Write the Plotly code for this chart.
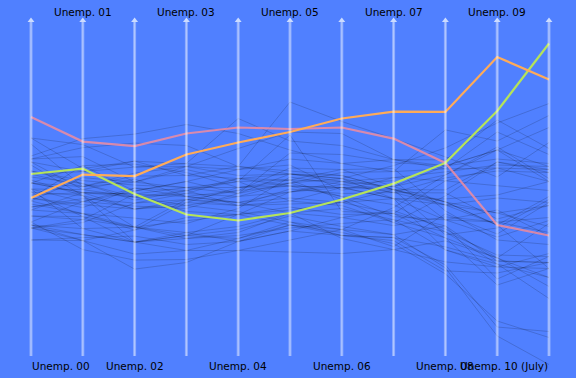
import plotly.graph_objects as go

# Axis labels (one per year column)
AXIS_LABELS = ["Unemp. 00", "Unemp. 01", "Unemp. 02", "Unemp. 03", "Unemp. 04",
               "Unemp. 05", "Unemp. 06", "Unemp. 07", "Unemp. 08", "Unemp. 09",
               "Unemp. 10 (July)"]

# Reference level (centre) of each axis, in % unemployment
AXIS_MID = [4.0, 4.82, 5.77, 5.95, 5.45, 4.9, 4.55, 4.62, 5.83, 9.2, 9.45]

# Background states, unemployment rate % (2000 .. July 2010)
STATES = {
    "AL": [4.6, 5.1, 5.9, 6.0, 5.7, 4.5, 4.0, 3.5, 5.6, 10.1, 10.0],
    "AZ": [4.0, 4.8, 6.1, 5.7, 5.0, 4.6, 4.1, 3.8, 6.1, 9.9, 9.7],
    "AR": [4.4, 5.0, 5.4, 5.9, 5.7, 5.2, 5.2, 5.3, 5.1, 7.5, 7.6],
    "CA": [4.9, 5.4, 6.7, 6.8, 6.2, 5.4, 4.9, 5.4, 7.2, 11.4, 12.3],
    "CO": [2.7, 3.8, 5.6, 6.0, 5.5, 5.0, 4.3, 3.7, 4.8, 8.1, 8.0],
    "CT": [2.3, 3.1, 4.4, 5.5, 4.9, 4.9, 4.4, 4.5, 5.7, 8.2, 8.9],
    "DE": [4.0, 3.5, 4.0, 4.3, 4.0, 4.1, 3.6, 3.4, 4.9, 8.1, 8.5],
    "FL": [3.8, 4.7, 5.6, 5.2, 4.6, 3.7, 3.2, 4.0, 6.3, 10.5, 11.5],
    "GA": [3.5, 4.0, 4.8, 4.8, 4.8, 5.3, 4.7, 4.5, 6.2, 9.8, 10.0],
    "HI": [4.3, 4.6, 4.0, 3.9, 3.4, 2.8, 2.4, 2.6, 4.1, 6.9, 6.5],
    "ID": [4.6, 5.0, 5.5, 5.4, 4.7, 3.8, 3.2, 2.7, 5.0, 7.7, 9.0],
    "IL": [4.5, 5.4, 6.5, 6.7, 6.1, 5.7, 4.5, 5.0, 6.4, 10.0, 10.2],
    "IN": [2.9, 4.4, 5.2, 5.3, 5.3, 5.4, 5.0, 4.6, 5.8, 10.1, 10.1],
    "IA": [2.8, 3.3, 4.0, 4.4, 4.6, 4.3, 3.7, 3.8, 4.2, 6.0, 6.8],
    "KS": [3.7, 4.3, 5.1, 5.5, 5.5, 5.1, 4.3, 4.1, 4.4, 6.7, 6.5],
    "KY": [4.2, 5.6, 5.7, 6.2, 5.3, 6.1, 5.7, 5.5, 6.6, 10.5, 10.2],
    "LA": [5.0, 5.9, 6.0, 6.6, 5.7, 6.7, 3.8, 3.8, 4.6, 6.8, 7.0],
    "ME": [3.3, 4.0, 4.4, 5.0, 4.6, 4.8, 4.6, 4.7, 5.4, 8.0, 7.9],
    "MD": [3.6, 4.0, 4.5, 4.5, 4.2, 4.1, 3.9, 3.6, 4.4, 7.0, 7.2],
    "MA": [2.7, 3.7, 5.3, 5.8, 5.2, 4.8, 4.8, 4.5, 5.3, 8.4, 8.9],
    "MN": [3.1, 3.9, 4.5, 4.9, 4.6, 4.2, 4.1, 4.6, 5.4, 8.0, 6.8],
    "MS": [5.7, 5.5, 6.7, 6.4, 6.2, 7.8, 6.8, 6.3, 6.9, 9.6, 11.0],
    "MO": [3.3, 4.7, 5.5, 5.8, 5.8, 5.4, 4.8, 5.0, 6.1, 9.3, 9.4],
    "MT": [4.8, 4.6, 4.5, 4.4, 4.1, 4.0, 3.3, 3.1, 4.6, 6.2, 7.2],
    "NE": [2.8, 3.1, 3.6, 3.9, 3.8, 3.8, 3.0, 3.0, 3.3, 4.6, 4.7],
    "NH": [2.8, 3.5, 4.5, 4.3, 3.9, 3.6, 3.4, 3.6, 3.8, 6.7, 5.8],
    "NJ": [3.7, 4.2, 5.8, 5.9, 4.9, 4.5, 4.6, 4.3, 5.5, 9.0, 9.7],
    "NM": [4.9, 4.8, 5.5, 5.9, 5.8, 5.2, 4.2, 3.5, 4.2, 6.9, 8.3],
    "NY": [4.5, 4.9, 6.2, 6.4, 5.8, 5.0, 4.6, 4.6, 5.4, 8.4, 8.2],
    "NC": [3.7, 5.6, 6.6, 6.5, 5.5, 5.2, 4.8, 4.7, 6.3, 10.6, 9.8],
    "ND": [2.9, 2.8, 3.4, 3.6, 3.4, 3.2, 3.2, 3.1, 3.2, 4.3, 3.6],
    "OH": [4.0, 4.4, 5.7, 6.2, 6.1, 5.9, 5.4, 5.6, 6.6, 10.2, 10.3],
    "OK": [3.1, 3.8, 4.5, 5.6, 4.9, 4.4, 4.1, 4.3, 3.8, 6.6, 6.8],
    "OR": [5.1, 6.5, 7.6, 8.1, 7.3, 6.2, 5.4, 5.2, 6.5, 11.1, 10.6],
    "PA": [4.2, 4.7, 5.6, 5.7, 5.4, 5.0, 4.6, 4.3, 5.3, 8.0, 9.2],
    "RI": [4.2, 4.7, 5.1, 5.4, 5.2, 5.1, 5.1, 5.2, 7.8, 10.8, 11.9],
    "SC": [3.6, 5.2, 6.0, 6.7, 6.8, 6.8, 6.4, 5.6, 6.8, 11.5, 10.8],
    "SD": [2.7, 3.1, 3.1, 3.5, 3.7, 3.7, 3.1, 2.8, 3.0, 4.8, 4.5],
    "TN": [3.9, 4.6, 5.1, 5.6, 5.4, 5.6, 5.2, 4.7, 6.6, 10.5, 9.7],
    "TX": [4.2, 4.9, 6.3, 6.7, 5.9, 5.4, 4.9, 4.3, 4.8, 7.6, 8.4],
    "UT": [3.4, 4.4, 5.8, 5.7, 5.0, 4.1, 2.9, 2.6, 3.4, 6.6, 7.3],
    "VT": [2.7, 3.3, 4.0, 4.5, 3.7, 3.5, 3.6, 3.9, 4.5, 6.9, 6.2],
    "VA": [2.3, 3.2, 4.2, 4.1, 3.7, 3.5, 3.0, 3.0, 3.9, 6.8, 7.0],
    "WA": [5.0, 6.2, 7.3, 7.4, 6.2, 5.5, 5.0, 4.6, 5.3, 8.9, 9.0],
    "WV": [5.5, 4.9, 6.0, 6.0, 5.3, 5.1, 4.9, 4.6, 4.3, 7.9, 9.1],
    "WI": [3.4, 4.5, 5.3, 5.6, 5.0, 4.8, 4.7, 4.9, 4.8, 8.5, 7.9],
    "WY": [3.9, 3.9, 4.0, 4.4, 3.8, 3.7, 3.0, 2.9, 3.1, 6.4, 7.0],
    "DC": [5.7, 6.3, 6.5, 6.8, 7.8, 6.5, 6.0, 5.6, 6.5, 9.9, 10.1],
}

# Highlighted states
ALASKA = [6.4, 6.4, 7.2, 7.8, 7.5, 6.9, 6.6, 6.3, 6.7, 8.0, 7.9]
MICHIGAN = [3.7, 5.3, 6.2, 7.1, 7.0, 6.8, 6.9, 7.2, 8.4, 13.6, 13.1]
NEVADA = [4.5, 5.5, 5.6, 5.1, 4.4, 4.1, 4.2, 4.8, 6.7, 11.8, 14.3]

BG = "#5080ff"
n = len(AXIS_LABELS)
xs = list(range(n))


def rel(vals):
    return [v - m for v, m in zip(vals, AXIS_MID)]


fig = go.Figure()
for name, vals in STATES.items():
    fig.add_trace(go.Scatter(x=xs, y=rel(vals), mode="lines", name=name,
                             line=dict(color="rgba(0,0,0,0.16)", width=1),
                             hoverinfo="name", showlegend=False))

for vals, col, name in [(ALASKA, "rgba(240,140,160,0.85)", "AK"),
                        (NEVADA, "#b5e35a", "NV"),
                        (MICHIGAN, "#ffab58", "MI")]:
    fig.add_trace(go.Scatter(x=xs, y=rel(vals), mode="lines", name=name,
                             line=dict(color=col, width=2.2),
                             hoverinfo="name", showlegend=False))

# axis lines + arrowheads
Y_TOP = 1 - 22 / 378
Y_BOT = 1 - 356 / 378
shapes = []
for i in xs:
    shapes.append(dict(type="line", xref="x", yref="paper", x0=i, x1=i,
                       y0=Y_BOT, y1=Y_TOP, layer="above",
                       line=dict(color="rgba(255,255,255,0.35)", width=3)))
    shapes.append(dict(type="line", xref="x", yref="paper", x0=i, x1=i,
                       y0=Y_BOT, y1=Y_TOP, layer="above",
                       line=dict(color="rgba(255,255,255,0.35)", width=1)))
fig.add_trace(go.Scatter(x=xs, y=[5.62] * n, mode="markers", hoverinfo="skip",
                         marker=dict(symbol="triangle-up", size=6,
                                     color="rgba(225,235,255,0.85)",
                                     line=dict(width=0)),
                         showlegend=False))

annotations = []
for i, lab in enumerate(AXIS_LABELS):
    top = (i % 2 == 1)
    if i == 0:
        xa = "left"
    elif i == n - 1:
        xa = "right"
    else:
        xa = "center"
    annotations.append(dict(x=i, xref="x", yref="paper",
                            y=(1 - 12.5 / 378) if top else (1 - 366 / 378),
                            yanchor="middle", xanchor=xa, text=lab,
                            showarrow=False, borderpad=0,
                            font=dict(family="DejaVu Sans", size=10.5, color="#000")))

x0 = -31 / 51.8
fig.update_layout(
    width=576, height=378,
    margin=dict(l=0, r=0, t=0, b=0),
    paper_bgcolor=BG, plot_bgcolor=BG,
    xaxis=dict(range=[x0, x0 + 576 / 51.8], visible=False, fixedrange=True),
    yaxis=dict(range=[-6.3, 6.3], visible=False, fixedrange=True),
    shapes=shapes, annotations=annotations, showlegend=False,
)

fig.write_html("out.html", config={"displayModeBar": False},
               post_script="document.body.style.margin='0';document.body.style.background='%s';" % BG)
